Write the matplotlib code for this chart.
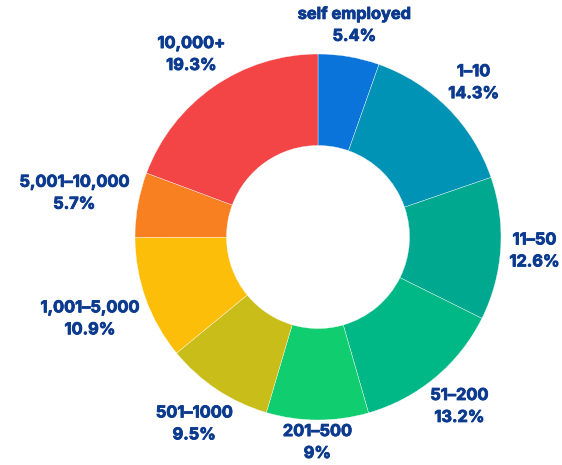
import matplotlib
matplotlib.use("Agg")
import matplotlib.pyplot as plt
import matplotlib.patheffects as pe
import numpy as np

categories = ["self employed", "1-10", "11-50", "51-200", "201-500",
              "501-1000", "1,001-5,000", "5,001-10,000", "10,000+"]
values = [5.4, 14.3, 12.6, 13.2, 9.0, 9.5, 10.9, 5.7, 19.3]
pct_labels = ["5.4%", "14.3%", "12.6%", "13.2%", "9%", "9.5%", "10.9%", "5.7%", "19.3%"]
colors = ["#0A74DA", "#0093B5", "#00A88F", "#00B886", "#10CE70",
          "#C9BD1A", "#FDBE0A", "#F98021", "#F44546"]
text_color = "#0B3A8E"

W, H, DPI = 562, 465, 100
fig = plt.figure(figsize=(W / DPI, H / DPI), dpi=DPI)
ax = fig.add_axes([0, 0, 1, 1])
cx, cy, R = 318, 228, 183
ax.axis("off")

wedges, _ = ax.pie(values, colors=colors, startangle=90, counterclock=False,
                   radius=1.0, wedgeprops=dict(width=0.5, edgecolor="#ffffff", linewidth=0.25))
ax.set_xlim(-cx / R, (W - cx) / R)
ax.set_ylim(-cy / R, (H - cy) / R)
ax.set_aspect("equal")

fig.canvas.draw()
renderer = fig.canvas.get_renderer()
gap = 8 / R
for w, cat, pl in zip(wedges, categories, pct_labels):
    ang = np.deg2rad((w.theta1 + w.theta2) / 2)
    ux, uy = np.cos(ang), np.sin(ang)
    t = ax.text(0, 0, f"{cat.replace('-', '–')}\n{pl}",
                ha="center", va="center", color=text_color, fontsize=11.8,
                fontweight="bold", family="Inter", linespacing=1.58,
                path_effects=[pe.withStroke(linewidth=0.6, foreground=text_color)])
    bb = t.get_window_extent(renderer)
    hw = bb.width / 2 / R
    hh = bb.height / 2 / R * 0.78
    d = 1.0 + gap + hw * abs(ux) + hh * abs(uy)
    t.set_position((d * ux, d * uy))

fig.savefig("out.png", dpi=DPI)
